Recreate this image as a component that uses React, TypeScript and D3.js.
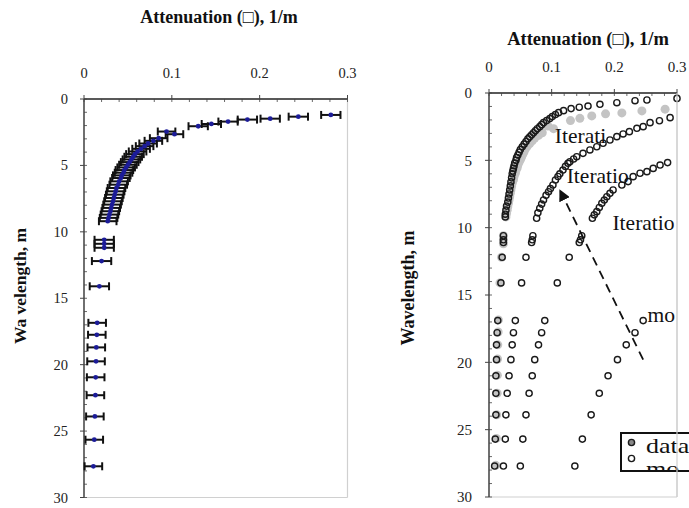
import * as d3 from "d3";

// measured attenuation profile (shared by both panels)
const dataWavelength = [1.2, 1.33, 1.48, 1.55, 1.7, 1.88, 2.05, 2.45, 2.65, 2.95, 3.15, 3.35, 3.55, 3.75, 3.95, 4.15, 4.35, 4.55, 4.75, 4.95, 5.15, 5.35, 5.55, 5.75, 5.95, 6.2, 6.45, 6.7, 6.95, 7.2, 7.45, 7.7, 7.95, 8.2, 8.45, 8.7, 8.95, 9.2, 10.6, 10.9, 11.2, 12.2, 14.1, 16.85, 17.75, 18.7, 19.75, 20.95, 22.3, 23.9, 25.65, 27.65];
const dataAtten = [0.281, 0.244, 0.212, 0.186, 0.164, 0.145, 0.13, 0.094, 0.103, 0.085, 0.079, 0.073, 0.069, 0.065, 0.061, 0.058, 0.056, 0.054, 0.052, 0.05, 0.048, 0.046, 0.045, 0.043, 0.042, 0.04, 0.039, 0.037, 0.036, 0.035, 0.034, 0.033, 0.032, 0.031, 0.03, 0.029, 0.028, 0.027, 0.023, 0.023, 0.023, 0.02, 0.0175, 0.015, 0.0146, 0.014, 0.0137, 0.0133, 0.013, 0.0124, 0.0117, 0.0107];
const dataError = [0.011, 0.011, 0.011, 0.011, 0.011, 0.011, 0.011, 0.01, 0.01, 0.01, 0.01, 0.01, 0.01, 0.01, 0.01, 0.01, 0.01, 0.01, 0.01, 0.01, 0.01, 0.01, 0.01, 0.01, 0.01, 0.01, 0.01, 0.01, 0.01, 0.01, 0.01, 0.01, 0.01, 0.01, 0.01, 0.01, 0.01, 0.01, 0.011, 0.011, 0.011, 0.011, 0.011, 0.01, 0.01, 0.01, 0.01, 0.01, 0.01, 0.01, 0.01, 0.01];

// model iterations (right panel)
const iter1Wavelength = [0.4, 0.52, 0.57, 0.72, 0.84, 0.97, 1.06, 1.16, 1.31, 1.46, 1.6, 1.75, 1.9, 2.05, 2.2, 2.35, 2.5, 2.65, 2.8, 2.95, 3.1, 3.25, 3.4, 3.6, 3.8, 4.0, 4.2, 4.4, 4.6, 4.8, 5.0, 5.2, 5.4, 5.6, 5.8, 6.0, 6.3, 6.6, 6.9, 7.2, 7.5, 7.8, 8.1, 8.4, 8.7, 9.0, 9.2, 10.6, 10.9, 11.1, 12.2, 14.1, 16.9, 17.8, 18.7, 19.8, 21.0, 22.3, 23.9, 25.7, 27.7];
const iter1Atten = [0.3, 0.252, 0.233, 0.204, 0.177, 0.158, 0.144, 0.131, 0.119, 0.111, 0.106, 0.101, 0.097, 0.092, 0.087, 0.084, 0.081, 0.077, 0.074, 0.071, 0.068, 0.065, 0.062, 0.059, 0.056, 0.053, 0.05, 0.048, 0.046, 0.044, 0.043, 0.041, 0.04, 0.039, 0.038, 0.037, 0.036, 0.035, 0.034, 0.033, 0.032, 0.031, 0.03, 0.028, 0.027, 0.026, 0.026, 0.023, 0.023, 0.023, 0.021, 0.019, 0.014, 0.013, 0.012, 0.012, 0.011, 0.011, 0.011, 0.01, 0.009];

const iter2Wavelength = [1.83, 2.06, 2.2, 2.5, 2.62, 2.87, 3.04, 3.24, 3.49, 3.73, 3.99, 4.23, 4.48, 4.73, 4.9, 5.1, 5.22, 5.45, 5.72, 6.0, 6.2, 6.46, 6.83, 7.1, 7.33, 7.6, 7.94, 8.25, 8.56, 8.9, 9.3, 10.6, 10.9, 11.1, 12.2, 14.1, 16.9, 17.8, 18.7, 19.8, 21.0, 22.3, 23.9, 25.7, 27.7];
const iter2Atten = [0.289, 0.272, 0.257, 0.246, 0.236, 0.224, 0.214, 0.204, 0.193, 0.182, 0.172, 0.161, 0.15, 0.14, 0.135, 0.129, 0.126, 0.122, 0.118, 0.113, 0.11, 0.106, 0.102, 0.098, 0.095, 0.091, 0.087, 0.084, 0.081, 0.078, 0.076, 0.07, 0.069, 0.068, 0.059, 0.052, 0.042, 0.039, 0.037, 0.035, 0.032, 0.029, 0.027, 0.026, 0.023];

const iter3Wavelength = [5.17, 5.35, 5.6, 5.84, 5.96, 6.21, 6.58, 6.83, 7.2, 7.45, 7.7, 7.95, 8.19, 8.5, 8.81, 9.05, 9.3, 10.6, 10.9, 11.1, 12.2, 14.1, 16.9, 17.8, 18.7, 19.8, 21.0, 22.3, 23.9, 25.7, 27.7];
const iter3Atten = [0.285, 0.273, 0.262, 0.252, 0.241, 0.23, 0.222, 0.212, 0.198, 0.193, 0.188, 0.184, 0.18, 0.176, 0.172, 0.168, 0.165, 0.148, 0.146, 0.144, 0.128, 0.109, 0.089, 0.084, 0.079, 0.073, 0.069, 0.064, 0.059, 0.054, 0.05];

const modelWavelength = [16.9, 17.8, 18.7, 19.8, 21.0, 22.3, 23.9, 25.7, 27.7];
const modelAtten = [0.246, 0.233, 0.219, 0.205, 0.19, 0.176, 0.163, 0.149, 0.137];

const xTicks = [0, 0.1, 0.2, 0.3];
const yTicks = [0, 5, 10, 15, 20, 25, 30];
const xMinor = d3.range(0, 0.3001, 0.02);
const yMinor = d3.range(0, 30.01, 1);

// annotations on the right panel: [attenuation, wavelength]
const iterLabels = [
  { text: "Iterati", at: [0.105, 3.7] },
  { text: "Iteratio", at: [0.124, 6.7] },
  { text: "Iteratio", at: [0.197, 10.2] },
  { text: "mo", at: [0.253, 17.0] },
];
const arrowFrom = [0.246, 19.8];
const arrowTo = [0.114, 7.3];
const legendLabels = ["data", "mo"];

const serif = "'Liberation Serif', 'Times New Roman', serif";

function Frame({ x, y, tickSize, labelY, labelX }) {
  const [x0, x1] = x.range();
  const [y0, y1] = y.range();
  return (
    <g fontFamily={serif}>
      <line x1={x1} y1={y0} x2={x1} y2={y1} stroke="#d0d0d0" strokeWidth={1.2} />
      <line x1={x0} y1={y1} x2={x1} y2={y1} stroke="#d0d0d0" strokeWidth={1.2} />
      <line x1={x0} y1={y0} x2={x1} y2={y0} stroke="#222" strokeWidth={1.3} />
      <line x1={x0} y1={y0} x2={x0} y2={y1} stroke="#222" strokeWidth={1.3} />
      {xMinor.map((t, i) => (
        <line key={"xm" + i} x1={x(t)} x2={x(t)} y1={y0} y2={y0 + 3} stroke="#444" strokeWidth={0.8} />
      ))}
      {yMinor.map((t, i) => (
        <line key={"ym" + i} x1={x0} x2={x0 + 3} y1={y(t)} y2={y(t)} stroke="#444" strokeWidth={0.8} />
      ))}
      {xTicks.map(t => (
        <g key={"xt" + t}>
          <line x1={x(t)} x2={x(t)} y1={y0 - 4} y2={y0} stroke="#444" strokeWidth={1} />
          <text x={x(t)} y={labelY} textAnchor="middle" fontSize={tickSize} fill="#222">
            {d3.format("~g")(t)}
          </text>
        </g>
      ))}
      {yTicks.map(t => (
        <g key={"yt" + t}>
          <line x1={x0 - 4} x2={x0} y1={y(t)} y2={y(t)} stroke="#444" strokeWidth={1} />
          <text x={labelX} y={y(t)} dy="0.35em" textAnchor="end" fontSize={tickSize} fill="#222">
            {t}
          </text>
        </g>
      ))}
    </g>
  );
}

function LeftPanel() {
  const x = d3.scaleLinear().domain([0, 0.3]).range([84, 347.5]);
  const y = d3.scaleLinear().domain([0, 30]).range([99, 497.5]);
  return (
    <g>
      <text x={219} y={23} textAnchor="middle" fontFamily={serif} fontWeight="bold" fontSize={18} fill="#111">
        Attenuation (□), 1/m
      </text>
      <text transform="translate(26,286) rotate(-90)" textAnchor="middle" fontFamily={serif} fontWeight="bold" fontSize={17.5} fill="#111">
        Wa velength, m
      </text>
      <Frame x={x} y={y} tickSize={14.5} labelY={78} labelX={68} />
      {dataWavelength.map((w, i) => {
        const cy = y(w);
        const a = x(dataAtten[i] - dataError[i]);
        const b = x(dataAtten[i] + dataError[i]);
        return (
          <g key={"e" + i} stroke="#111" strokeWidth={2}>
            <line x1={a} x2={b} y1={cy} y2={cy} />
            <line x1={a} x2={a} y1={cy - 4} y2={cy + 4} />
            <line x1={b} x2={b} y1={cy - 4} y2={cy + 4} />
          </g>
        );
      })}
      {dataWavelength.map((w, i) => (
        <circle key={"p" + i} cx={x(dataAtten[i])} cy={y(w)} r={2.4} fill="#1c1c98" />
      ))}
    </g>
  );
}

function OpenSeries({ x, y, wl, at }) {
  return (
    <g fill="none" stroke="#1a1a1a" strokeWidth={1.4}>
      {wl.map((w, i) => (
        <circle key={i} cx={x(at[i])} cy={y(w)} r={3.1} />
      ))}
    </g>
  );
}

function RightPanel() {
  const x = d3.scaleLinear().domain([0, 0.3]).range([489, 677]);
  const y = d3.scaleLinear().domain([0, 30]).range([93, 497]);
  return (
    <g>
      <defs>
        <marker id="arrowHead" viewBox="0 0 10 10" refX={8} refY={5} markerWidth={6.5} markerHeight={6.5} orient="auto">
          <path d="M0,0 L10,5 L0,10 z" fill="#111" />
        </marker>
        <clipPath id="legendClip">
          <rect x={621} y={433} width={80} height={38} />
        </clipPath>
      </defs>
      <text x={588} y={45} textAnchor="middle" fontFamily={serif} fontWeight="bold" fontSize={18.5} fill="#111">
        Attenuation (□), 1/m
      </text>
      <text transform="translate(414,288) rotate(-90)" textAnchor="middle" fontFamily={serif} fontWeight="bold" fontSize={18} fill="#111">
        Wavelength, m
      </text>
      <Frame x={x} y={y} tickSize={15} labelY={72} labelX={472} />
      <g fill="#c4c4c4">
        {dataWavelength.map((w, i) => (
          <circle key={i} cx={x(dataAtten[i])} cy={y(w)} r={4.5} />
        ))}
      </g>
      <OpenSeries x={x} y={y} wl={iter1Wavelength} at={iter1Atten} />
      <OpenSeries x={x} y={y} wl={iter2Wavelength} at={iter2Atten} />
      <OpenSeries x={x} y={y} wl={iter3Wavelength} at={iter3Atten} />
      <OpenSeries x={x} y={y} wl={modelWavelength} at={modelAtten} />
      <line
        x1={x(arrowFrom[0])}
        y1={y(arrowFrom[1])}
        x2={x(arrowTo[0])}
        y2={y(arrowTo[1])}
        stroke="#111"
        strokeWidth={1.8}
        strokeDasharray="9 6"
        markerEnd="url(#arrowHead)"
      />
      {iterLabels.map((l, i) => (
        <text key={i} x={x(l.at[0])} y={y(l.at[1])} fontFamily={serif} fontSize={21.5} fill="#111">
          {l.text}
        </text>
      ))}
      <g>
        <rect x={621} y={433} width={80} height={38} fill="#fff" stroke="#111" strokeWidth={2} />
        <g clipPath="url(#legendClip)" fontFamily={serif} fontSize={20} fill="#111">
          <circle cx={631.5} cy={442.5} r={3.1} fill="#888" stroke="#1a1a1a" strokeWidth={1.4} />
          <circle cx={631.5} cy={458.5} r={3.1} fill="none" stroke="#1a1a1a" strokeWidth={1.4} />
          {legendLabels.map((t, i) => (
            <text key={t} transform={`translate(646,${453 + i * 23}) scale(1.3,1)`}>{t}</text>
          ))}
        </g>
      </g>
      <line x1={677} y1={93} x2={677} y2={497} stroke="#d0d0d0" strokeWidth={1.2} />
    </g>
  );
}

export default function App() {
  return (
    <svg
      width={689}
      height={508}
      viewBox="0 0 689 508"
      style={{ position: "fixed", left: 0, top: 0, background: "#fff" }}
    >
      <rect width={689} height={508} fill="#fff" />
      <LeftPanel />
      <RightPanel />
    </svg>
  );
}
